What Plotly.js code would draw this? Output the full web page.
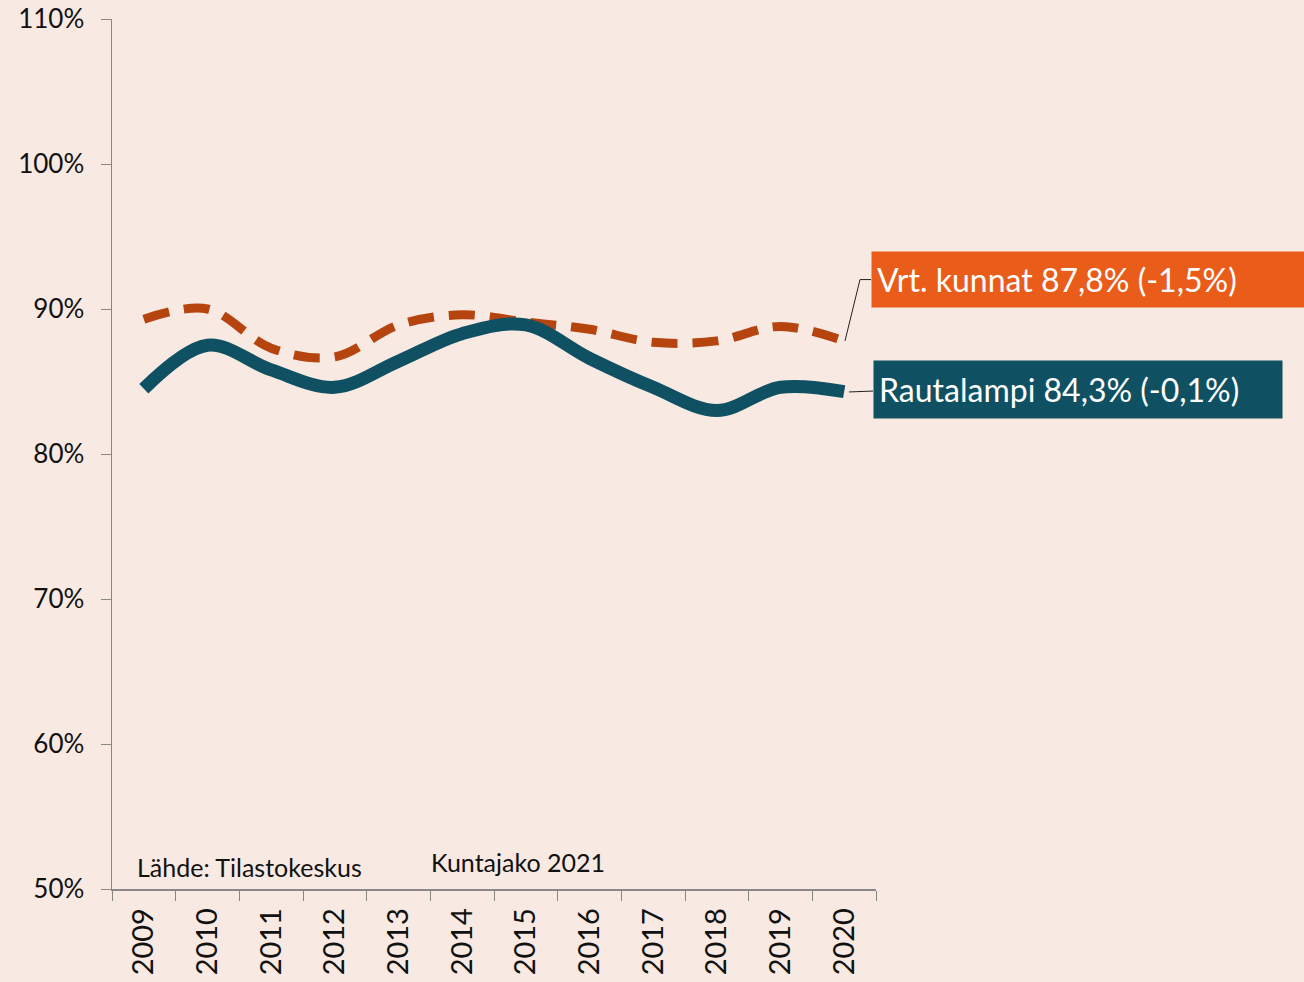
<!DOCTYPE html>
<html>
<head>
<meta charset="utf-8">
<script src="https://cdn.plot.ly/plotly-3.0.1.min.js"></script>
<style>html,body{margin:0;padding:0;background:#F8E9E2;}#chart{width:1304px;height:982px;}</style>
</head>
<body>
<div id="chart"></div>
<script>
const years = ["2009","2010","2011","2012","2013","2014","2015","2016","2017","2018","2019","2020"];
const rautalampi = [84.5, 87.5, 85.8, 84.6, 86.4, 88.3, 88.9, 86.6, 84.6, 83.0, 84.6, 84.3];
const vrtKunnat = [89.3, 90.0, 87.3, 86.7, 88.9, 89.6, 89.1, 88.6, 87.7, 87.8, 88.8, 87.8];
const labelRautalampi = "Rautalampi 84,3% (-0,1%)";
const labelVrt = "Vrt. kunnat 87,8% (-1,5%)";
const sourceText = "Lähde: Tilastokeskus";
const divisionText = "Kuntajako 2021";

const font = "Lato, 'Open Sans', sans-serif";
const traces = [
  {x: years, y: vrtKunnat, type: "scatter", mode: "lines", name: "Vrt. kunnat",
   line: {color: "#B5440F", width: 9, dash: "26px,15px", shape: "spline", smoothing: 1}},
  {x: years, y: rautalampi, type: "scatter", mode: "lines", name: "Rautalampi",
   line: {color: "#0F5163", width: 13, shape: "spline", smoothing: 1}}
];
const W = 764, x0 = 112;
const px = v => (v - x0) / W;
const layout = {
  width: 1304, height: 982,
  paper_bgcolor: "#F8E9E2", plot_bgcolor: "#F8E9E2",
  margin: {l: 112, r: 428, t: 19, b: 93},
  showlegend: false,
  font: {family: font, color: "#111"},
  xaxis: {type: "category", range: [-0.5, 11.5], tickson: "boundaries", ticks: "outside", ticklen: 10,
          tickcolor: "#888", showline: true, linecolor: "#888", linewidth: 1.5, showgrid: false,
          tickangle: -90, ticklabelstandoff: 6, tickfont: {size: 29, family: font, color: "#111"}, zeroline: false},
  yaxis: {range: [50, 110], dtick: 10, ticksuffix: "%", ticks: "outside", ticklen: 10, tickcolor: "#888",
          showline: true, linecolor: "#888", linewidth: 1.5, showgrid: false, zeroline: false,
          ticklabelstandoff: 11, tickfont: {size: 26, family: font, color: "#111"}},
  shapes: [
    {type: "path", xref: "paper", yref: "y", path: `M ${px(845)} 87.8 L ${px(860)} 92.03 L ${px(871)} 92.03`, line: {color: "#222", width: 1}},
    {type: "line", xref: "paper", yref: "y", x0: px(849), y0: 84.28, x1: px(873), y1: 84.34, line: {color: "#222", width: 1}}
  ],
  annotations: [
    {xref: "paper", yref: "y", x: px(871), y: 92.03, xanchor: "left", yanchor: "middle", text: labelVrt,
     showarrow: false, bgcolor: "#EA5C1A", width: 440, height: 45, align: "left", borderpad: 5,
     font: {size: 32, color: "#fff", family: font}},
    {xref: "paper", yref: "y", x: px(873), y: 84.45, xanchor: "left", yanchor: "middle", text: labelRautalampi,
     showarrow: false, bgcolor: "#0F5163", width: 398, height: 47, align: "left", borderpad: 5,
     font: {size: 32, color: "#fff", family: font}},
    {xref: "paper", yref: "y", x: px(135), y: 51.5, xanchor: "left", yanchor: "middle", text: sourceText,
     showarrow: false, font: {size: 25, color: "#111", family: font}},
    {xref: "paper", yref: "y", x: px(429), y: 51.85, xanchor: "left", yanchor: "middle", text: divisionText,
     showarrow: false, font: {size: 25, color: "#111", family: font}}
  ]
};
Plotly.newPlot("chart", traces, layout, {displayModeBar: false, staticPlot: true});
</script>
</body>
</html>
